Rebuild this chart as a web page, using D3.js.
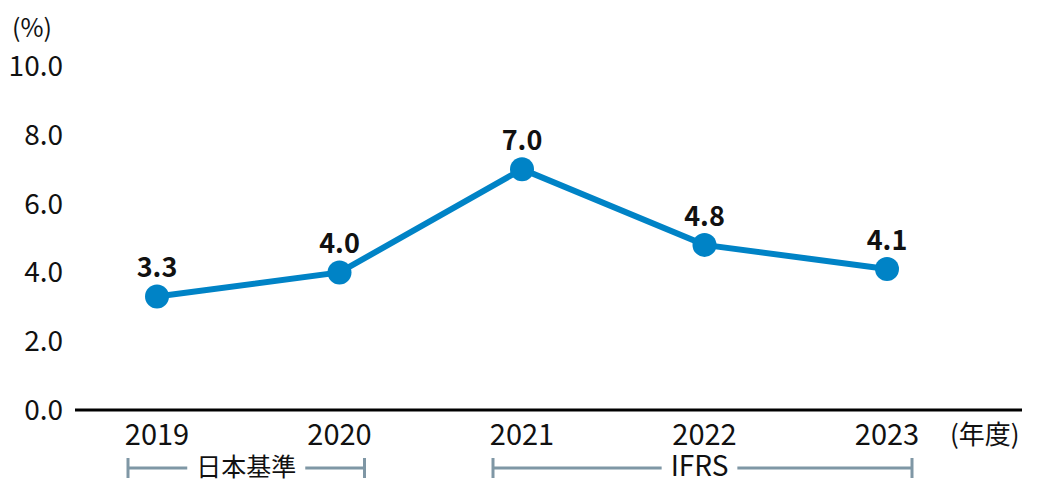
<!DOCTYPE html>
<html><head><meta charset="utf-8">
<script src="https://cdn.jsdelivr.net/npm/d3@7"></script>
<style>
html,body{margin:0;padding:0;background:#fff;}
text{font-family:"Noto Sans CJK JP","Noto Sans",sans-serif;fill:#111;}
</style></head>
<body><svg id="c" width="1040" height="491"></svg>
<script>
const years = ["2019","2020","2021","2022","2023"];
const values = [3.3, 4.0, 7.0, 4.8, 4.1];
const labels = ["3.3","4.0","7.0","4.8","4.1"];
const yTicks = [0, 2, 4, 6, 8, 10];
const standards = [
  {name:"日本基準", from:"2019", to:"2020"},
  {name:"IFRS", from:"2021", to:"2023"}
];

const svg = d3.select("#c");
const x = d3.scalePoint().domain(years).range([157, 887]);
const y = d3.scaleLinear().domain([0, 10]).range([410, 66]);

// y tick labels
svg.append("g").selectAll("text").data(yTicks).join("text")
  .attr("x", 63).attr("y", d => y(d) + 10)
  .attr("text-anchor", "end").attr("font-size", 28)
  .text(d => d.toFixed(1));

svg.append("text").attr("x", 12).attr("y", 37).attr("font-size", 25).text("(%)");

// baseline axis
svg.append("line").attr("x1", 75).attr("x2", 1022)
  .attr("y1", y(0)).attr("y2", y(0)).attr("stroke", "#000").attr("stroke-width", 3);

// x labels
svg.append("g").selectAll("text").data(years).join("text")
  .attr("x", d => x(d)).attr("y", 445).attr("text-anchor", "middle")
  .attr("font-size", 29).text(d => d);

svg.append("text").attr("x", 950).attr("y", 444).attr("font-size", 26).text("(年度)");

// brackets
const bc = "#7f97a5";
standards.forEach(s => {
  const x0 = x(s.from) - 29, x1 = x(s.to) + 25;
  const g = svg.append("g");
  const cx = s.name === "IFRS" ? x("2022") - 5 : (x0 + x1) / 2;
  const t = g.append("text").attr("x", cx).attr("y", 476).attr("text-anchor", "middle")
    .attr("font-size", s.name === "IFRS" ? 28 : 25).text(s.name);
  const bb = t.node().getBBox();
  const gap = 9;
  g.append("line").attr("x1", x0).attr("x2", bb.x - gap).attr("y1", 468).attr("y2", 468)
    .attr("stroke", bc).attr("stroke-width", 3);
  g.append("line").attr("x1", bb.x + bb.width + gap).attr("x2", x1).attr("y1", 468).attr("y2", 468)
    .attr("stroke", bc).attr("stroke-width", 3);
  [x0, x1].forEach(xx => g.append("line").attr("x1", xx).attr("x2", xx)
    .attr("y1", 458).attr("y2", 478).attr("stroke", bc).attr("stroke-width", 3));
});

// line
const data = years.map((yr, i) => ({yr, v: values[i], l: labels[i]}));
svg.append("path").datum(data)
  .attr("d", d3.line().x(d => x(d.yr)).y(d => y(d.v)))
  .attr("fill", "none").attr("stroke", "#0083c6").attr("stroke-width", 6);
svg.append("g").selectAll("circle").data(data).join("circle")
  .attr("cx", d => x(d.yr)).attr("cy", d => y(d.v)).attr("r", 12).attr("fill", "#0083c6");
svg.append("g").selectAll("text").data(data).join("text")
  .attr("x", d => x(d.yr)).attr("y", d => y(d.v) - 19)
  .attr("text-anchor", "middle").attr("font-size", 27).attr("font-weight", "bold")
  .text(d => d.l);
</script></body></html>
